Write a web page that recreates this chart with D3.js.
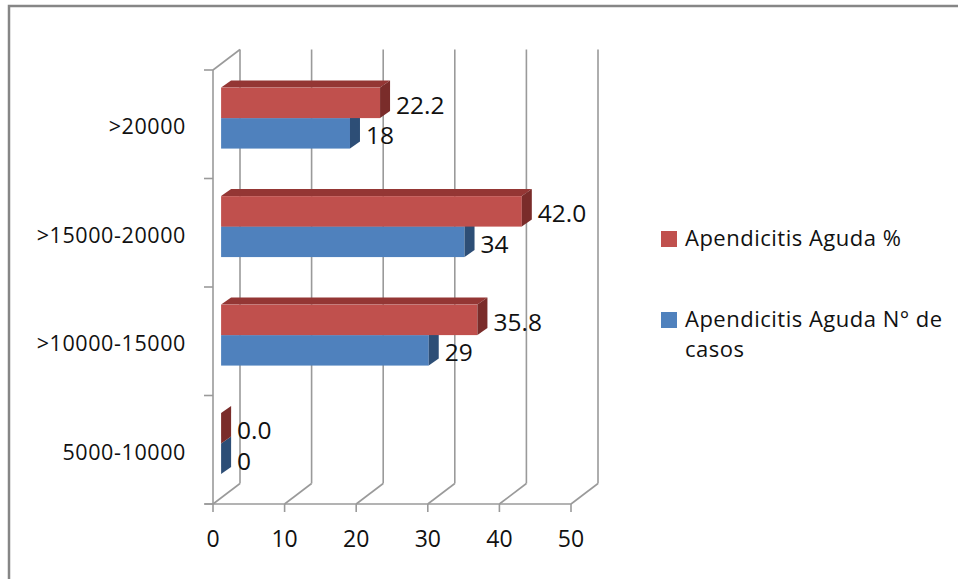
<!DOCTYPE html>
<html>
<head>
<meta charset="utf-8">
<script src="https://cdn.jsdelivr.net/npm/d3@7/dist/d3.min.js"></script>
<style>
  html, body { margin: 0; padding: 0; background: #fff; }
  svg { display: block; }
  text { font-family: "Open Sans", "Noto Sans", sans-serif; fill: #111; }
</style>
</head>
<body>
<svg id="chart" width="958" height="579"></svg>
<script>
// Leucocyte count ranges (bottom to top) and the two series
const categories = ["5000-10000", ">10000-15000", ">15000-20000", ">20000"];
const pctValues = [0.0, 35.8, 42.0, 22.2];
const casosValues = [0, 29, 34, 18];
const seriesNames = ["Apendicitis Aguda %", "Apendicitis Aguda N\u00b0 de casos"];
const seriesColors = {
  pct:   { front: "#c0504d", top: "#943634", side: "#7a2c2a" },
  casos: { front: "#4f81bd", top: "#3a6496", side: "#2d4e76" }
};
const xTicks = [0, 10, 20, 30, 40, 50];

const svg = d3.select("#chart");

// chart frame
svg.append("rect")
  .attr("x", 9).attr("y", 6).attr("width", 1000).attr("height", 1000)
  .attr("fill", "none").attr("stroke", "#868686").attr("stroke-width", 2.5);

// 3D projection: depth offset of the back wall
const DX = 27, DY = 20.5;
const frontTop = 70, frontBottom = 504;

const x = d3.scaleLinear().domain([0, 50]).range([213, 571]);
const y = d3.scaleBand().domain(categories.slice().reverse()).range([frontTop, frontBottom]);
const inner = d3.scaleBand().domain(["pct", "casos"]).range([0, y.bandwidth()]).paddingOuter(0.78);

const grid = svg.append("g").attr("stroke", "#9a9a9a").attr("stroke-width", 1.6).attr("fill", "none");

// back wall gridlines and floor diagonals
xTicks.forEach(t => {
  grid.append("line")
    .attr("x1", x(t) + DX).attr("y1", frontTop - DY)
    .attr("x2", x(t) + DX).attr("y2", frontBottom - DY);
  grid.append("line")
    .attr("x1", x(t)).attr("y1", frontBottom)
    .attr("x2", x(t) + DX).attr("y2", frontBottom - DY);
});
// side wall
grid.append("line").attr("x1", x(0)).attr("y1", frontTop).attr("x2", x(0)).attr("y2", frontBottom);
grid.append("line").attr("x1", x(0)).attr("y1", frontTop).attr("x2", x(0) + DX).attr("y2", frontTop - DY);
// front floor edge
grid.append("line").attr("x1", x(0) - 8).attr("y1", frontBottom).attr("x2", x(50)).attr("y2", frontBottom);
// value ticks
xTicks.forEach(t => {
  grid.append("line").attr("x1", x(t)).attr("y1", frontBottom).attr("x2", x(t)).attr("y2", frontBottom + 8);
});
// category ticks
const bounds = y.domain().map(c => y(c)).concat([frontBottom]);
bounds.forEach(b => {
  grid.append("line").attr("x1", x(0) - 9).attr("y1", b).attr("x2", x(0)).attr("y2", b);
});

// value axis labels
svg.append("g").selectAll("text").data(xTicks).join("text")
  .attr("x", d => x(d)).attr("y", 546.5)
  .attr("text-anchor", "middle").attr("font-size", 23)
  .text(d => d);

// category labels
svg.append("g").selectAll("text").data(categories).join("text")
  .attr("x", 186).attr("y", d => y(d) + y.bandwidth() / 2 + 10)
  .attr("text-anchor", "end").attr("font-size", 21.5).attr("letter-spacing", 0.6)
  .text(d => d);

// bars: front face sits partway into the depth, with its own thickness
const f0 = 0.3;
const bx = DX * f0, by = DY * f0;
const bdx = 10, bdy = 7;

const rows = [];
categories.forEach((c, i) => {
  rows.push({ cat: c, key: "casos", value: casosValues[i], label: String(casosValues[i]) });
  rows.push({ cat: c, key: "pct", value: pctValues[i], label: pctValues[i].toFixed(1) });
});

const barG = svg.append("g");
// blue bars first so the red bar above covers the hidden top face
["casos", "pct"].forEach(key => {
  rows.filter(r => r.key === key).forEach(r => {
    const x0 = x(0) + bx;
    const x1 = x(r.value) + bx;
    const y0 = y(r.cat) + inner(key) - by;
    const y1 = y0 + inner.bandwidth();
    const col = seriesColors[key];
    const g = barG.append("g");
    // top face
    g.append("path")
      .attr("d", `M${x0},${y0}L${x1},${y0}L${x1 + bdx},${y0 - bdy}L${x0 + bdx},${y0 - bdy}Z`)
      .attr("fill", col.top);
    // front face
    g.append("rect")
      .attr("x", x0).attr("y", y0).attr("width", x1 - x0).attr("height", y1 - y0)
      .attr("fill", col.front);
    // end face
    g.append("path")
      .attr("d", `M${x1},${y0}L${x1 + bdx},${y0 - bdy}L${x1 + bdx},${y1 - bdy}L${x1},${y1}Z`)
      .attr("fill", col.side);
    // value label
    svg.append("text")
      .attr("x", x1 + 16).attr("y", (y0 + y1) / 2 + 11)
      .attr("font-size", 24.5)
      .text(r.label);
  });
});

// legend
const legend = svg.append("g");
const legendItems = [
  { key: "pct", lines: ["Apendicitis Aguda %"], y: 231 },
  { key: "casos", lines: ["Apendicitis Aguda N\u00b0 de", "casos"], y: 312 }
];
legendItems.forEach(it => {
  legend.append("rect")
    .attr("x", 661).attr("y", it.y).attr("width", 16).attr("height", 16)
    .attr("fill", seriesColors[it.key].front);
  const t = legend.append("text")
    .attr("x", 685).attr("y", it.y + 15)
    .attr("font-size", 22).attr("letter-spacing", 0.5);
  it.lines.forEach((ln, i) => {
    t.append("tspan").attr("x", 685).attr("dy", i === 0 ? 0 : 30).text(ln);
  });
});
</script>
</body>
</html>
